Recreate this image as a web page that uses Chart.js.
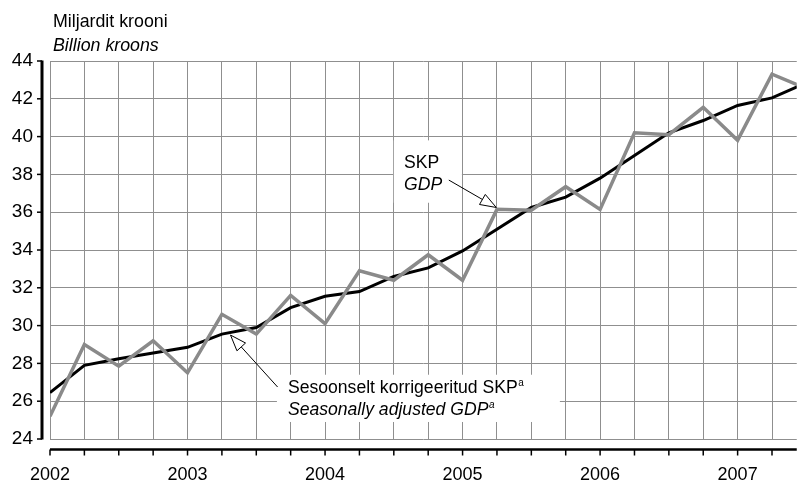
<!DOCTYPE html>
<html>
<head>
<meta charset="utf-8">
<script src="https://cdn.jsdelivr.net/npm/chart.js@4.4.1/dist/chart.umd.min.js"></script>
<style>
  body { margin: 0; background: #fff; }
  #wrap { width: 797px; height: 482px; position: relative; }
</style>
</head>
<body>
<div id="wrap"><canvas id="myChart"></canvas></div>
<script>
// quarters 2002 I ... 2007 III
var quarters = ['2002 I','2002 II','2002 III','2002 IV','2003 I','2003 II','2003 III','2003 IV',
    '2004 I','2004 II','2004 III','2004 IV','2005 I','2005 II','2005 III','2005 IV',
    '2006 I','2006 II','2006 III','2006 IV','2007 I','2007 II','2007 III'];
var years = ['2002', '2003', '2004', '2005', '2006', '2007'];
// SKP / GDP
var gdp = [25.2, 29.0, 27.85, 29.2, 27.5, 30.6, 29.55, 31.6, 30.1, 32.9, 32.4, 33.75,
    32.4, 36.15, 36.1, 37.35, 36.15, 40.2, 40.1, 41.55, 39.8, 43.3, 42.55];
// Sesoonselt korrigeeritud SKP / Seasonally adjusted GDP
var gdpSa = [26.45, 27.9, 28.25, 28.55, 28.85, 29.55, 29.9, 30.95, 31.55, 31.8, 32.6, 33.05,
    33.95, 35.1, 36.25, 36.8, 37.8, 39.0, 40.2, 40.85, 41.65, 42.05, 42.85];
var yTicks = [24, 26, 28, 30, 32, 34, 36, 38, 40, 42, 44];

var FONT = '"Liberation Sans", Arial, sans-serif';

function toXY(arr) {
    var out = [];
    for (var i = 0; i < arr.length; i++) {
        out.push({ x: i, y: arr[i] });
    }
    return out;
}

// annotation anchors in data units (x = quarter index, y = value)
var notes = [
    { box: [10.0, 39.8, 11.98, 36.5], x: 10.3, y: 38.35, l1: 'SKP', l2: 'GDP', sup: false,
      from: [11.6, 37.7], to: [12.98, 36.25] },
    { box: [6.6, 27.4, 14.83, 24.9], x: 6.92, y: 26.45, l1: 'Sesoonselt korrigeeritud SKP',
      l2: 'Seasonally adjusted GDP', sup: true, from: [6.62, 26.75], to: [5.25, 29.5] }
];

function arrow(ctx, x1, y1, x2, y2) {
    var a = Math.atan2(y2 - y1, x2 - x1);
    var len = 16, hw = 5.8;
    var bx = x2 - len * Math.cos(a), by = y2 - len * Math.sin(a);
    ctx.beginPath();
    ctx.moveTo(x1, y1);
    ctx.lineTo(bx, by);
    ctx.lineWidth = 1;
    ctx.strokeStyle = '#000';
    ctx.stroke();
    ctx.beginPath();
    ctx.moveTo(x2, y2);
    ctx.lineTo(bx + hw * Math.sin(a), by - hw * Math.cos(a));
    ctx.lineTo(bx - hw * Math.sin(a), by + hw * Math.cos(a));
    ctx.closePath();
    ctx.fillStyle = '#fff';
    ctx.fill();
    ctx.stroke();
}

var extras = {
    id: 'extras',
    beforeDatasetsDraw: function(chart) {
        var ctx = chart.ctx, xs = chart.scales.x, ys = chart.scales.y;
        ctx.save();
        ctx.fillStyle = '#fff';
        notes.forEach(function(n) {
            var x1 = xs.getPixelForValue(n.box[0]), y1 = ys.getPixelForValue(n.box[1]);
            var x2 = xs.getPixelForValue(n.box[2]), y2 = ys.getPixelForValue(n.box[3]);
            ctx.fillRect(x1, y1, x2 - x1, y2 - y1);
        });
        ctx.restore();
    },
    afterDatasetsDraw: function(chart) {
        var ctx = chart.ctx, xs = chart.scales.x, ys = chart.scales.y;
        var area = chart.chartArea;
        ctx.save();
        ctx.fillStyle = '#000';
        ctx.textBaseline = 'alphabetic';
        notes.forEach(function(n) {
            var px = xs.getPixelForValue(n.x), py = ys.getPixelForValue(n.y);
            ctx.font = '17.6px ' + FONT;
            ctx.fillStyle = '#000';
            ctx.fillText(n.l1, px, py);
            var w1 = ctx.measureText(n.l1).width;
            ctx.font = 'italic 17.6px ' + FONT;
            ctx.fillText(n.l2, px, py + 22);
            var w2 = ctx.measureText(n.l2).width;
            if (n.sup) {
                ctx.font = '10px ' + FONT;
                ctx.fillText('a', px + w1 + 0.5, py - 7);
                ctx.font = 'italic 10px ' + FONT;
                ctx.fillText('a', px + w2 + 0.5, py + 15);
            }
            arrow(ctx, xs.getPixelForValue(n.from[0]), ys.getPixelForValue(n.from[1]),
                xs.getPixelForValue(n.to[0]), ys.getPixelForValue(n.to[1]));
        });

        // unit titles
        ctx.fillStyle = '#000';
        ctx.font = '17.8px ' + FONT;
        ctx.fillText('Miljardit krooni', area.left + 3, area.top - 34);
        ctx.font = 'italic 17.8px ' + FONT;
        ctx.fillText('Billion kroons', area.left + 3, area.top - 10);

        // y axis line, set off from the plot
        var ax = area.left - 8;
        ctx.strokeStyle = '#000';
        ctx.lineWidth = 3;
        ctx.beginPath();
        ctx.moveTo(ax, ys.getPixelForValue(44) - 0.5);
        ctx.lineTo(ax, ys.getPixelForValue(24) + 0.5);
        ctx.stroke();
        ctx.lineWidth = 1.5;
        yTicks.forEach(function(v) {
            var p = ys.getPixelForValue(v);
            ctx.beginPath();
            ctx.moveTo(ax - 5, p);
            ctx.lineTo(ax, p);
            ctx.stroke();
        });

        // x axis line below the plot
        var ay = area.bottom + 10.5;
        ctx.lineWidth = 2.5;
        ctx.beginPath();
        ctx.moveTo(area.left, ay);
        ctx.lineTo(area.right, ay);
        ctx.stroke();
        ctx.lineWidth = 1.5;
        for (var i = 0; i < quarters.length; i++) {
            var px = xs.getPixelForValue(i);
            if (px > area.right) break;
            ctx.beginPath();
            ctx.moveTo(px, ay);
            ctx.lineTo(px, ay + 6);
            ctx.stroke();
        }
        ctx.restore();
    }
};

var ctx = document.getElementById('myChart').getContext('2d');
var myChart = new Chart(ctx, {
    type: 'line',
    data: {
        datasets: [{
            label: 'SKP',
            data: toXY(gdp),
            borderColor: '#8a8a8a',
            borderWidth: 3.5,
            pointRadius: 0,
            tension: 0
        }, {
            label: 'Sesoonselt korrigeeritud SKP',
            data: toXY(gdpSa),
            borderColor: '#000',
            borderWidth: 3,
            pointRadius: 0,
            tension: 0
        }]
    },
    options: {
        responsive: true,
        maintainAspectRatio: false,
        animation: false,
        layout: { padding: { top: 61, left: 0, right: 0, bottom: 0 } },
        plugins: { legend: { display: false }, tooltip: { enabled: false } },
        scales: {
            x: {
                type: 'linear',
                min: 0,
                max: 21.72,
                afterFit: function(scale) { scale.height = 43; },
                border: { display: false },
                grid: { color: '#8f8f8f', lineWidth: 1, drawTicks: false },
                ticks: {
                    stepSize: 1,
                    includeBounds: false,
                    autoSkip: false,
                    maxRotation: 0,
                    padding: 25,
                    color: '#000',
                    font: { family: FONT, size: 18 },
                    callback: function(v) {
                        return v % 4 === 0 ? years[v / 4] : '';
                    }
                }
            },
            y: {
                min: 24,
                max: 44,
                afterFit: function(scale) { scale.width = 50; },
                border: { display: false },
                grid: { color: '#8f8f8f', lineWidth: 1, drawTicks: false },
                ticks: {
                    stepSize: 2,
                    padding: 17,
                    color: '#000',
                    font: { family: FONT, size: 19 }
                }
            }
        }
    },
    plugins: [extras]
});
</script>
</body>
</html>
